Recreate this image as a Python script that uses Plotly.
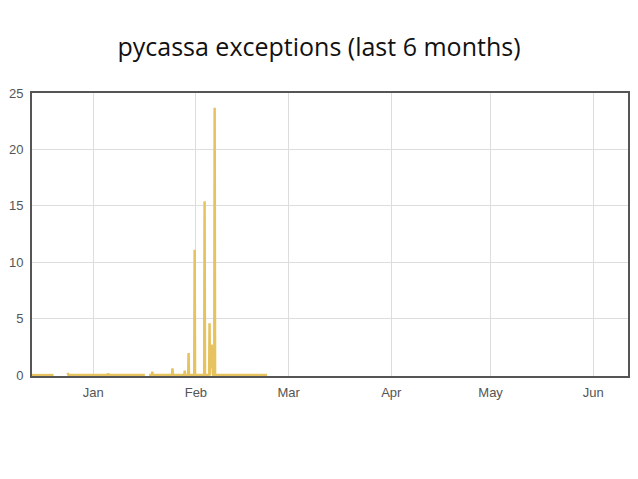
import plotly.graph_objects as go

# Exception counts over time (None marks gaps in the data)
times = [
    "2010-12-12 00:00", "2010-12-20 00:00", "2010-12-22 00:00",
    "2010-12-24 06:00", "2010-12-24 09:00", "2010-12-24 12:00",
    "2011-01-05 09:00", "2011-01-05 12:00", "2011-01-05 15:00",
    "2011-01-16 14:00", "2011-01-17 06:00",
    "2011-01-17 21:00", "2011-01-18 17:00", "2011-01-18 20:00", "2011-01-18 23:00",
    "2011-01-24 19:00", "2011-01-24 22:00", "2011-01-25 01:00",
    "2011-01-28 12:00", "2011-01-28 15:00", "2011-01-28 18:00",
    "2011-01-29 16:00", "2011-01-29 19:00", "2011-01-29 22:00",
    "2011-01-31 12:00", "2011-01-31 15:00", "2011-01-31 18:00",
    "2011-02-03 12:00", "2011-02-03 15:00", "2011-02-03 18:00",
    "2011-02-05 00:00", "2011-02-05 03:00", "2011-02-05 06:00",
    "2011-02-05 12:00", "2011-02-05 15:00", "2011-02-05 18:00",
    "2011-02-05 21:00", "2011-02-06 01:00", "2011-02-06 05:00",
    "2011-02-06 13:00", "2011-02-06 16:00", "2011-02-06 19:00",
    "2011-02-22 12:00",
]
exceptions = [
    0, 0, None,
    0.2, 0, 0,
    0, 0.15, 0,
    0, None,
    0, 0, 0.3, 0,
    0, 0.6, 0,
    0, 0.4, 0,
    0, 1.95, 0,
    0, 11.1, 0,
    0, 15.4, 0,
    0, 4.6, 0,
    2.6, 0.6, 2.7,
    0.8, 2.5, 0,
    0, 23.7, 0,
    0,
]

month_ticks = ["2011-01-01", "2011-02-01", "2011-03-01", "2011-04-01", "2011-05-01", "2011-06-01"]
month_labels = ["Jan", "Feb", "Mar", "Apr", "May", "Jun"]
y_ticks = [0, 5, 10, 15, 20, 25]

fig = go.Figure()
fig.add_trace(go.Scatter(
    x=times, y=exceptions, mode="lines",
    line=dict(color="#e6c35e", width=2.5),
    connectgaps=False, showlegend=False, hoverinfo="x+y",
))

axis_font = dict(family="Liberation Sans, Arial, sans-serif", size=13, color="#555555")

fig.update_layout(
    width=638, height=479,
    paper_bgcolor="white", plot_bgcolor="white",
    margin=dict(l=32, r=10, t=93, b=103, autoexpand=False),
    title=dict(
        text="pycassa exceptions (last 6 months)",
        x=0.5, xanchor="center", xref="container",
        y=1 - 47 / 479, yanchor="middle", yref="container",
        font=dict(family="Open Sans, sans-serif", size=25, color="#111111"),
    ),
    xaxis=dict(
        type="date",
        range=["2010-12-13 12:00", "2011-06-11 12:00"],
        tickvals=month_ticks, ticktext=month_labels,
        showgrid=True, gridcolor="#dddddd", gridwidth=1,
        showline=True, mirror=True, linecolor="#555555", linewidth=2,
        ticks="outside", ticklen=3, tickcolor="rgba(0,0,0,0)",
        tickfont=axis_font, zeroline=False, layer="below traces",
        automargin=False,
    ),
    yaxis=dict(
        range=[-0.08, 25],
        tickvals=y_ticks,
        showgrid=True, gridcolor="#dddddd", gridwidth=1,
        showline=True, mirror=True, linecolor="#555555", linewidth=2,
        ticks="outside", ticklen=4, tickcolor="rgba(0,0,0,0)",
        tickfont=axis_font, zeroline=False, layer="below traces",
        automargin=False,
    ),
)

fig.write_html("out.html", config={"displayModeBar": False},
               post_script="document.body.style.margin='0';")
